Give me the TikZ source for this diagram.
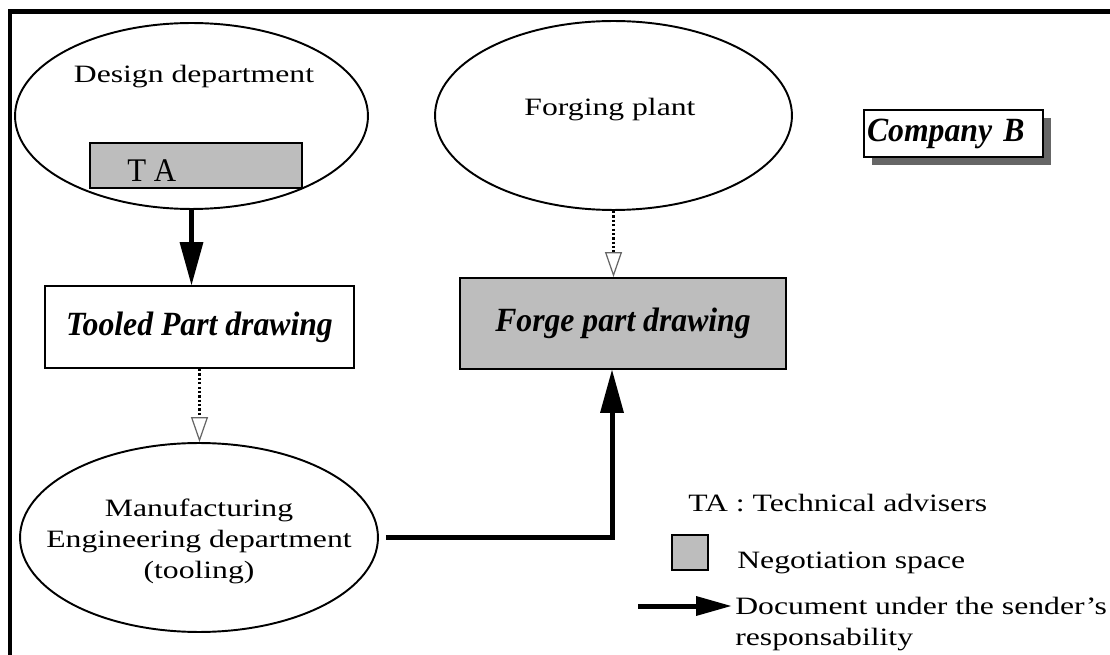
\documentclass[tikz,border=0pt]{standalone}
\usepackage{fontspec}
\setmainfont{Liberation Serif}[FakeStretch=1.27]
\newfontfamily\docfont{Liberation Serif}[FakeStretch=0.935]
\usepackage{xcolor}
\usetikzlibrary{arrows.meta,shapes.geometric,shadows}
\definecolor{negogray}{gray}{0.74}

\begin{document}
\begin{tikzpicture}[x=0.02cm,y=-0.02cm,
    font=\fontsize{14.2}{17.6}\selectfont,
    dept/.style={draw,ellipse,line width=1.1pt,inner sep=0pt},
    docbox/.style={draw,line width=1.1pt,inner sep=0pt,font=\docfont\fontsize{19.3}{23}\selectfont\bfseries\itshape},
    negobox/.style={draw,fill=negogray,line width=1.1pt,inner sep=0pt},
    sendarrow/.style={line width=0.1cm,-{Triangle[length=0.86cm,width=0.48cm,line width=0pt]}},
    negoarrow/.style={line width=0.05cm,dash pattern=on 1.3pt off 1.2pt,
        -{Triangle[open,length=0.5cm,width=0.34cm,line width=0.7pt,color=black!60]}}]
  \useasboundingbox (0,0) rectangle (1110,655);
  % Frame
  \draw [line width=0.1cm] (10,655) -- (10,12) -- (1110,12);
  % Departments
  \node [dept,minimum width=7.06cm,minimum height=3.72cm] (design) at (191.5,116) {};
  \node at (194,77) (designlabel) {Design department};
  \node [negobox,minimum width=4.24cm,minimum height=0.9cm] (ta) at (196,165.5) {};
  \node [anchor=base west,inner sep=0pt,font=\docfont\fontsize{18.8}{22}\selectfont] (talabel) at (127,182) {T A};
  \node [dept,minimum width=7.14cm,minimum height=3.78cm] (forging) at (613.5,115.5) {};
  \node at (610,110) (forginglabel) {Forging plant};
  \node [dept,minimum width=7.16cm,minimum height=3.78cm] (manuf) at (199,537.5) {};
  \node [align=center] at (199,541) (manuflabel) {Manufacturing\\Engineering department\\(tooling)};
  % Company
  \node [draw,fill=white,line width=1.1pt,inner ysep=0pt,inner xsep=0.06cm,
         minimum height=0.94cm,text width=3.46cm,align=left,
         font=\docfont\fontsize{19.3}{23}\selectfont\bfseries\itshape,
         drop shadow={shadow xshift=0.16cm,shadow yshift=-0.16cm,fill=black!60,opacity=1}]
        (company) at (953.5,133.5) {Company B};
  % Drawings
  \node [docbox,fill=white,minimum width=6.18cm,minimum height=1.64cm] (tooled) at (199.5,327) {Tooled Part drawing};
  \node [docbox,fill=negogray,minimum width=6.52cm,minimum height=1.82cm] (forge) at (623,323.5) {Forge part drawing};
  \coordinate (forgein) at ([xshift=-0.22cm]forge.south);
  % Flows
  \draw [sendarrow] (design.south) -- (design.south |- tooled.north);
  \draw [sendarrow] ([xshift=0.14cm]manuf.east) -| (forgein);
  \draw [negoarrow] (tooled.south) -- (tooled.south |- manuf.north);
  \draw [negoarrow] (forging.south) -- (forging.south |- forge.north);
  % Legend
  \node [anchor=base west,inner sep=0pt] (tadef) at (688,512) {TA : Technical advisers};
  \node [negobox,minimum width=0.72cm,minimum height=0.7cm] (negokey) at (690,552.5) {};
  \node [anchor=base west,inner sep=0pt] (negodef) at (737,568) {Negotiation space};
  \coordinate (keystart) at (638,606);
  \node [anchor=base west,inner sep=0pt] (senddef) at (735,614) {Document under the sender's};
  \node [anchor=base west,inner sep=0pt] (senddef2) at (735,645) {responsability};
  \draw [sendarrow,-{Triangle[length=0.7cm,width=0.4cm,line width=0pt]}] (keystart) -- ([xshift=-0.08cm]keystart -| senddef.west);
\end{tikzpicture}
\end{document}
